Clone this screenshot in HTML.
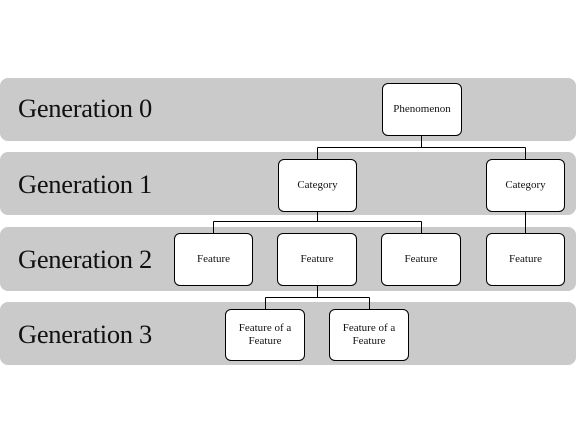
<!DOCTYPE html>
<html><head><style>
body{margin:0;width:576px;height:443px;background:#fff;position:relative;overflow:hidden;font-family:"Liberation Serif",serif}
.band{position:absolute;left:0;width:576px;background:#cacaca;border-radius:8px}
.lab{position:absolute;left:18px;font-size:26.5px;color:#111;line-height:1;letter-spacing:-0.3px}
.box{position:absolute;background:#fff;border:1px solid #000;border-radius:6px;box-sizing:border-box;display:flex;align-items:center;justify-content:center;text-align:center;font-size:11px;line-height:1.15;color:#111}
svg{position:absolute;left:0;top:0}
</style></head><body>
<div class="band" style="top:78px;height:63px"></div>
<div class="band" style="top:152px;height:63px"></div>
<div class="band" style="top:227px;height:64px"></div>
<div class="band" style="top:302px;height:63px"></div>
<div class="lab" style="top:95px">Generation 0</div>
<div class="lab" style="top:171px">Generation 1</div>
<div class="lab" style="top:246px">Generation 2</div>
<div class="lab" style="top:321px">Generation 3</div>
<svg width="576" height="443"><g stroke="#000" stroke-width="1" fill="none">
<path d="M421.5 136V147.5M317.5 147.5H525.5M317.5 147.5V159M525.5 147.5V159"/>
<path d="M317.5 211V221.5M213.5 221.5H421.5M213.5 221.5V233M421.5 221.5V233M525.5 211V233"/>
<path d="M317.5 286V297.5M265.5 297.5H369.5M265.5 297.5V309M369.5 297.5V309"/>
</g></svg>
<div class="box" style="left:382px;top:83px;width:80px;height:53px">Phenomenon</div>
<div class="box" style="left:278px;top:159px;width:79px;height:53px">Category</div>
<div class="box" style="left:486px;top:159px;width:79px;height:53px">Category</div>
<div class="box" style="left:174px;top:233px;width:79px;height:53px">Feature</div>
<div class="box" style="left:277px;top:233px;width:80px;height:53px">Feature</div>
<div class="box" style="left:381px;top:233px;width:80px;height:53px">Feature</div>
<div class="box" style="left:486px;top:233px;width:79px;height:53px">Feature</div>
<div class="box" style="left:225px;top:309px;width:80px;height:52px">Feature of a<br>Feature</div>
<div class="box" style="left:329px;top:309px;width:80px;height:52px">Feature of a<br>Feature</div>
</body></html>
